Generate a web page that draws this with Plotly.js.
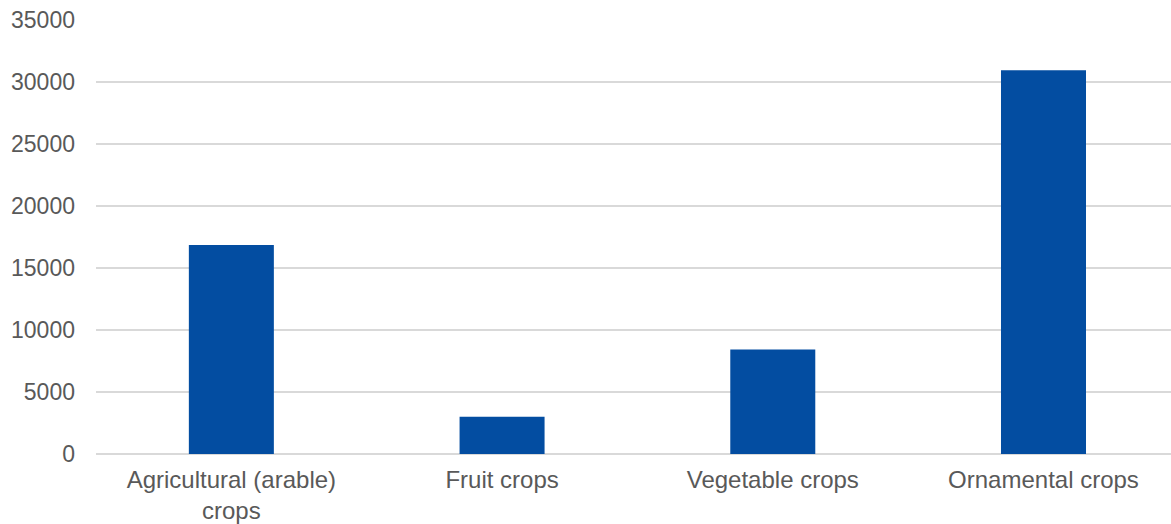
<!DOCTYPE html>
<html>
<head>
<meta charset="utf-8">
<script src="https://cdn.plot.ly/plotly-3.0.1.min.js"></script>
<style>html,body{margin:0;padding:0;background:#fff;}#chart{width:1171px;height:524px;}</style>
</head>
<body>
<div id="chart"></div>
<script>
var categories = ["Agricultural (arable)<br>crops", "Fruit crops", "Vegetable crops", "Ornamental crops"];
var values = [16850, 3000, 8420, 30950];
var yTicks = [0, 5000, 10000, 15000, 20000, 25000, 30000, 35000];

var trace = {
  type: "bar",
  x: categories,
  y: values,
  width: 0.314,
  marker: {color: "#034DA1", line: {width: 0}},
  hoverinfo: "x+y"
};

var layout = {
  width: 1171,
  height: 524,
  margin: {l: 96, r: 0, t: 20, b: 70},
  paper_bgcolor: "#ffffff",
  plot_bgcolor: "#ffffff",
  showlegend: false,
  font: {family: "Liberation Sans, Arial, sans-serif", color: "#595959", size: 23},
  xaxis: {
    type: "category",
    range: [-0.5, 3.471],
    showgrid: false,
    zeroline: false,
    showline: false,
    ticks: "",
    ticklabelstandoff: 9,
    tickfont: {size: 24, color: "#595959"}
  },
  yaxis: {
    range: [0, 35000],
    tickvals: yTicks,
    ticktext: yTicks.map(String),
    showgrid: true,
    gridcolor: "#D9D9D9",
    gridwidth: 1.5,
    zeroline: true,
    zerolinecolor: "#D9D9D9",
    zerolinewidth: 1.5,
    showline: false,
    ticks: "",
    ticklabelstandoff: 20,
    tickfont: {size: 23, color: "#595959"}
  }
};

Plotly.newPlot("chart", [trace], layout, {displayModeBar: false, staticPlot: true});
</script>
</body>
</html>
